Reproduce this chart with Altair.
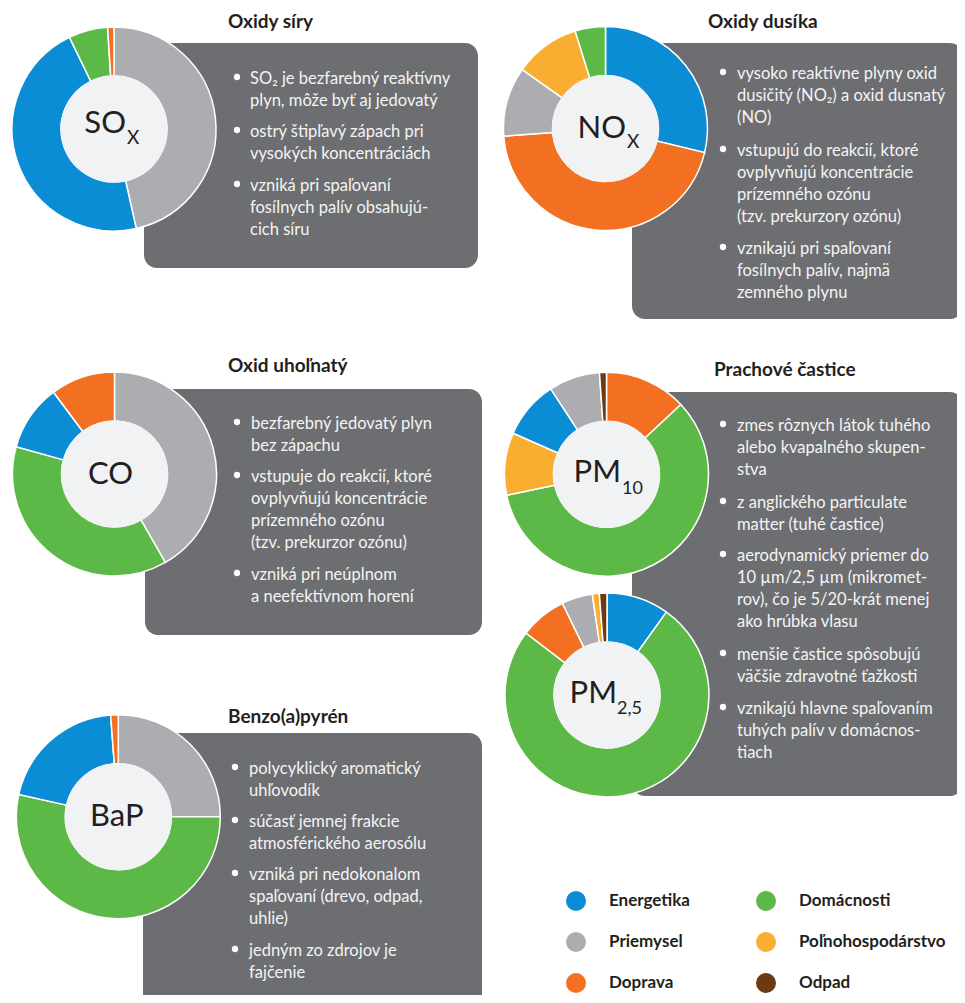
import altair as alt
import pandas as pd

# ---------------- data ----------------
sources = ["Energetika", "Priemysel", "Doprava", "Domácnosti", "Poľnohospodárstvo", "Odpad"]
source_colors = ["#0a8dd4", "#acadb0", "#f37022", "#5db947", "#f9ae32", "#6b3a13"]

sox_src = ["Priemysel", "Energetika", "Domácnosti", "Doprava"]
sox_val = [46.5, 46.3, 6.2, 1.0]

nox_src = ["Energetika", "Doprava", "Priemysel", "Poľnohospodárstvo", "Domácnosti"]
nox_val = [28.8, 45.0, 11.0, 10.4, 4.8]

co_src = ["Priemysel", "Domácnosti", "Energetika", "Doprava"]
co_val = [41.7, 37.6, 10.5, 10.2]

pm10_src = ["Doprava", "Domácnosti", "Poľnohospodárstvo", "Energetika", "Priemysel", "Odpad"]
pm10_val = [13.0, 58.7, 9.9, 9.2, 8.1, 1.1]

pm25_src = ["Energetika", "Domácnosti", "Doprava", "Priemysel", "Poľnohospodárstvo", "Odpad"]
pm25_val = [9.9, 75.5, 7.4, 4.9, 1.1, 1.2]

bap_src = ["Priemysel", "Domácnosti", "Energetika", "Doprava"]
bap_val = [25.0, 53.5, 20.3, 1.2]

titles = ["Oxidy síry", "Oxidy dusíka", "Oxid uhoľnatý", "Prachové častice", "Benzo(a)pyrén"]

sox_text = [
    ["SO₂ je bezfarebný reaktívny", "plyn, môže byť aj jedovatý"],
    ["ostrý štipľavý zápach pri", "vysokých koncentráciách"],
    ["vzniká pri spaľovaní", "fosílnych palív obsahujú-", "cich síru"],
]
nox_text = [
    ["vysoko reaktívne plyny oxid", "dusičitý (NO₂) a oxid dusnatý", "(NO)"],
    ["vstupujú do reakcií, ktoré", "ovplyvňujú koncentrácie", "prízemného ozónu", "(tzv. prekurzory ozónu)"],
    ["vznikajú pri spaľovaní", "fosílnych palív, najmä", "zemného plynu"],
]
co_text = [
    ["bezfarebný jedovatý plyn", "bez zápachu"],
    ["vstupuje do reakcií, ktoré", "ovplyvňujú koncentrácie", "prízemného ozónu", "(tzv. prekurzor ozónu)"],
    ["vzniká pri neúplnom", "a neefektívnom horení"],
]
pm_text = [
    ["zmes rôznych látok tuhého", "alebo kvapalného skupen-", "stva"],
    ["z anglického particulate", "matter (tuhé častice)"],
    ["aerodynamický priemer do", "10 µm/2,5 µm (mikromet-", "rov), čo je 5/20-krát menej", "ako hrúbka vlasu"],
    ["menšie častice spôsobujú", "väčšie zdravotné ťažkosti"],
    ["vznikajú hlavne spaľovaním", "tuhých palív v domácnos-", "tiach"],
]
bap_text = [
    ["polycyklický aromatický", "uhľovodík"],
    ["súčasť jemnej frakcie", "atmosférického aerosólu"],
    ["vzniká pri nedokonalom", "spaľovaní (drevo, odpad,", "uhlie)"],
    ["jedným zo zdrojov je", "fajčenie"],
]

rows = []
for key, srcs, vals in [("SOx", sox_src, sox_val), ("NOx", nox_src, nox_val),
                        ("CO", co_src, co_val), ("PM10", pm10_src, pm10_val),
                        ("PM25", pm25_src, pm25_val), ("BaP", bap_src, bap_val)]:
    for i, (s, v) in enumerate(zip(srcs, vals)):
        rows.append({"pollutant": key, "source": s, "value": v, "ord": i})
arc_df = pd.DataFrame(rows)
one = pd.DataFrame({"k": [0]})

# ---------------- styling / layout ----------------
M = 8
def px(v):
    return v - M

DARK = "#231f20"
BOX = "#6d6e71"
FONT = "Lato"
R_OUT, R_IN = 102, 53

legend = alt.Legend(orient="none", legendX=px(566), legendY=px(891), columns=2,
                    symbolType="circle", symbolSize=400, symbolStrokeWidth=0,
                    symbolOpacity=1, labelFont=FONT, labelFontSize=17,
                    labelFontWeight="bold", labelColor=DARK, labelOffset=23,
                    rowPadding=21, columnPadding=66, title=None, padding=0,
                    labelLimit=400)
color = alt.Color("source:N", scale=alt.Scale(domain=sources, range=source_colors),
                  legend=legend)

layers = []

def box(x1, x2, y1, y2):
    layers.append(alt.Chart(one).mark_rect(cornerRadius=13, color=BOX).encode(
        x=alt.value(px(x1)), x2=alt.value(px(x2)), y=alt.value(px(y1)), y2=alt.value(px(y2))))

def donut(key, cx, cy):
    layers.append(alt.Chart(arc_df).transform_filter(alt.datum.pollutant == key).mark_arc(
        innerRadius=R_IN, outerRadius=R_OUT, stroke="white", strokeWidth=1.5).encode(
        theta=alt.Theta("value:Q", stack=True),
        color=color,
        order=alt.Order("ord:Q"),
        x=alt.value(px(cx)), y=alt.value(px(cy))))
    # symbol size is the area of the bounding square: (2r)^2
    layers.append(alt.Chart(one).mark_circle(size=(2 * (R_IN + 0.5)) ** 2,
                                              color="#f1f2f3", opacity=1).encode(
        x=alt.value(px(cx)), y=alt.value(px(cy))))

def label(text, x, y, size, align="left", weight="normal", color=DARK, baseline="alphabetic"):
    layers.append(alt.Chart(one).mark_text(text=text, font=FONT, fontSize=size,
                                            fontWeight=weight, color=color, align=align,
                                            baseline=baseline).encode(
        x=alt.value(px(x)), y=alt.value(px(y))))

def bullets(blocks, bx, tx, ys):
    for lines, yc in zip(blocks, ys):
        layers.append(alt.Chart(one).mark_circle(size=40, color="white", opacity=1).encode(
            x=alt.value(px(bx)), y=alt.value(px(yc))))
        layers.append(alt.Chart(one).mark_text(text="\n".join(lines), lineBreak="\n",
                                                lineHeight=22.3, font=FONT, fontSize=16.5,
                                                color="#f4f4f4", align="left",
                                                baseline="top").encode(
            x=alt.value(px(tx)), y=alt.value(px(yc - 6.5))))

# boxes
box(144, 478, 43, 268)
box(632, 963, 43, 319)
box(145, 482, 389, 635)
box(632, 963, 392, 796)
box(143, 482, 733, 1012)

# donuts
donut("SOx", 114, 129)
donut("NOx", 605.5, 128.5)
donut("CO", 114.5, 474)
donut("PM10", 606.5, 474.3)
donut("PM25", 607, 695)
donut("BaP", 118.3, 816.7)

# center labels
label("SO", 126, 133, 31, align="right")
label("X", 127, 144, 19)
label("NO", 626, 138, 31, align="right")
label("X", 627, 148, 19)
label("CO", 88, 484, 31)
label("PM", 621, 482, 31, align="right")
label("10", 622, 494, 18)
label("PM", 617, 703, 31, align="right")
label("2,5", 617, 714, 18)
label("BaP", 90, 826, 31)

# titles
label(titles[0], 228, 28, 19, weight="bold")
label(titles[1], 708, 28, 19, weight="bold")
label(titles[2], 228, 372, 19, weight="bold")
label(titles[3], 714, 376, 19, weight="bold")
label(titles[4], 228, 723, 19, weight="bold")

# bullet texts
bullets(sox_text, 237, 250, [77, 130, 184])
bullets(nox_text, 723, 737, [72, 149, 247])
bullets(co_text, 237, 251, [422, 475, 573])
bullets(pm_text, 723, 737, [424, 501, 554, 653, 707])
bullets(bap_text, 235, 249, [767, 820, 873, 949])

chart = alt.layer(*layers).resolve_scale(theta="independent").properties(
    width=949, height=987, padding=0, autosize="none"
).configure_view(stroke=None)

chart.save("out.html", embed_options={"renderer": "svg", "actions": False})
